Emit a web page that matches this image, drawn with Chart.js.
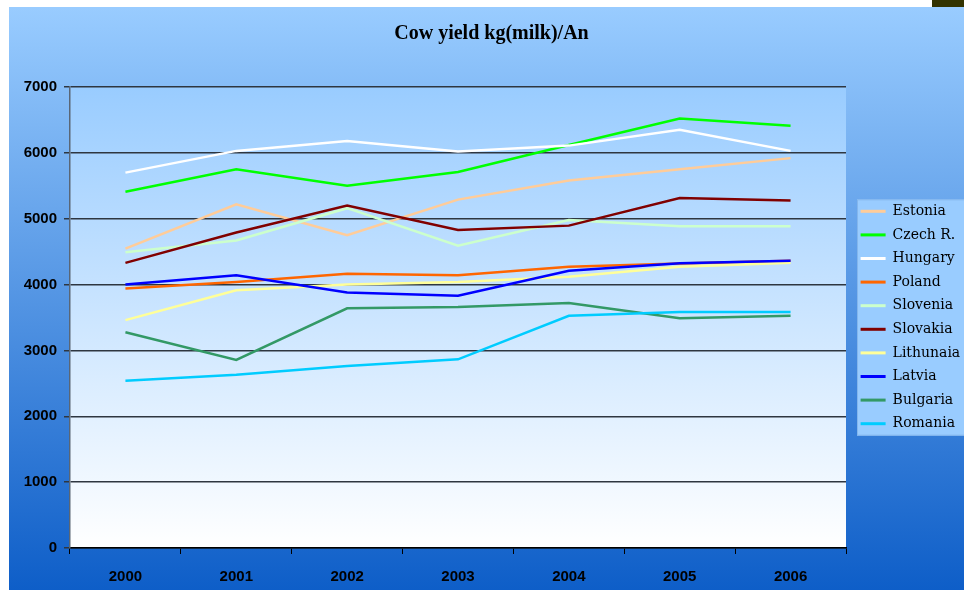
<!DOCTYPE html>
<html>
<head>
<meta charset="utf-8">
<title>Cow yield kg(milk)/An</title>
<script src="https://cdn.jsdelivr.net/npm/chart.js@4/dist/chart.umd.min.js"></script>
<style>
  html, body { margin: 0; padding: 0; background: #fff; }
  #cowChart { display: block; }
</style>
</head>
<body>
<canvas id="cowChart" width="964" height="590"></canvas>
<script>
// --- Data ---
const years = ['2000', '2001', '2002', '2003', '2004', '2005', '2006'];
const countries = ['Estonia', 'Czech R.', 'Hungary', 'Poland', 'Slovenia', 'Slovakia', 'Lithunaia', 'Latvia', 'Bulgaria', 'Romania'];

const estonia   = [4545, 5220, 4750, 5290, 5580, 5750, 5920];
const czech     = [5410, 5750, 5500, 5710, 6120, 6520, 6410];
const hungary   = [5700, 6030, 6180, 6020, 6110, 6350, 6030];
const poland    = [3940, 4040, 4165, 4140, 4270, 4320, 4360];
const slovenia  = [4490, 4670, 5160, 4590, 4980, 4885, 4885];
const slovakia  = [4330, 4790, 5200, 4830, 4895, 5315, 5275];
const lithuania = [3460, 3915, 4000, 4040, 4120, 4270, 4330];
const latvia    = [4000, 4140, 3880, 3830, 4210, 4325, 4360];
const bulgaria  = [3275, 2855, 3640, 3660, 3720, 3490, 3525];
const romania   = [2540, 2630, 2765, 2865, 3525, 3585, 3585];

const seriesValues = [estonia, czech, hungary, poland, slovenia, slovakia, lithuania, latvia, bulgaria, romania];
const seriesColors = ['#FFCC99', '#00FF00', '#FFFFFF', '#FF6600', '#CCFFCC', '#800000', '#FFFF99', '#0000FF', '#339966', '#00CCFF'];

const yTicks = [0, 1000, 2000, 3000, 4000, 5000, 6000, 7000];

// --- Backgrounds: page frame, plot gradient, legend box ---
const backdrop = {
    id: 'backdrop',
    afterInit(chart) {
        // fixed legend width so the plot ends where the reference does
        const lg = chart.legend;
        const fit = lg.fit;
        lg.fit = function () { fit.call(this); this.width = 118; };
    },
    beforeDraw(chart) {
        const { ctx, width, height, chartArea: area } = chart;
        ctx.save();
        ctx.fillStyle = '#ffffff';
        ctx.fillRect(0, 0, width, height);

        const outer = ctx.createLinearGradient(0, 7, 0, height);
        outer.addColorStop(0, '#99CCFF');
        outer.addColorStop(1, '#0E5EC8');
        ctx.fillStyle = outer;
        ctx.fillRect(9, 7, width - 9, height - 7);

        ctx.fillStyle = '#333300';
        ctx.fillRect(width - 32, 0, 32, 7);

        const inner = ctx.createLinearGradient(0, area.top, 0, area.bottom);
        inner.addColorStop(0, '#99CCFF');
        inner.addColorStop(1, '#FFFFFF');
        ctx.fillStyle = inner;
        ctx.fillRect(area.left, area.top, area.right - area.left, area.bottom - area.top);

        // nudge legend and title to the reference spots
        const lg = chart.legend;
        lg.left = area.right + 5;
        lg.right = lg.left + lg.width;
        chart.titleBlock.left = 19;
        chart.titleBlock.right = width;

        const boxes = lg.legendHitBoxes;
        if (boxes && boxes.length) {
            const top = boxes[0].top - 5;
            const last = boxes[boxes.length - 1];
            const bottom = last.top + last.height + 5;
            ctx.fillStyle = '#99CCFF';
            ctx.fillRect(area.right + 11, top, width - area.right - 11, bottom - top);
            ctx.strokeStyle = '#84B6EC';
            ctx.lineWidth = 1;
            ctx.strokeRect(area.right + 11.5, top + 0.5, width - area.right - 11, bottom - top - 1);
        }
        ctx.restore();
    }
};

const datasets = countries.map((name, i) => ({
    label: name,
    data: seriesValues[i],
    borderColor: seriesColors[i],
    backgroundColor: seriesColors[i],
    borderWidth: 2.5,
    pointRadius: 0,
    pointHoverRadius: 0,
    pointBorderWidth: 3,
    pointStyle: 'line',
    tension: 0,
    fill: false,
    order: -i   // later series drawn on top, like the original
}));

new Chart(document.getElementById('cowChart'), {
    type: 'line',
    data: { labels: years, datasets: datasets },
    options: {
        responsive: false,
        animation: false,
        events: [],
        layout: { padding: 0 },
        scales: {
            x: {
                offset: true,
                grid: {
                    offset: true,
                    drawOnChartArea: false,
                    drawTicks: true,
                    tickLength: 6,
                    color: '#000000',
                    lineWidth: 1
                },
                border: { color: '#000000', width: 1.5 },
                ticks: {
                    color: '#000000',
                    padding: 14,
                    font: { family: 'Liberation Sans', size: 15, weight: 'bold' }
                },
                afterFit(scale) { scale.height = 42; }
            },
            y: {
                min: 0,
                max: 7000,
                afterBuildTicks(scale) { scale.ticks = yTicks.map(v => ({ value: v })); },
                grid: {
                    color: '#2E3640',
                    lineWidth: 1.5,
                    drawTicks: true,
                    tickLength: 6
                },
                border: { color: '#5A6675', width: 1.5 },
                ticks: {
                    color: '#000000',
                    padding: 7,
                    font: { family: 'Liberation Sans', size: 15, weight: 'bold' },
                    callback: v => String(v)
                },
                afterFit(scale) { scale.width = 70; }
            }
        },
        plugins: {
            title: {
                display: true,
                text: 'Cow yield kg(milk)/An',
                color: '#000000',
                font: { family: 'Liberation Serif', size: 20, weight: 'bold' },
                padding: { top: 22, bottom: 41 }
            },
            legend: {
                position: 'right',
                fullSize: false,
                labels: {
                    usePointStyle: true,
                    pointStyle: 'line',
                    pointStyleWidth: 25,
                    padding: 9.6,
                    color: '#000000',
                    font: { family: 'DejaVu Serif', size: 14 },
                    sort: (a, b) => a.datasetIndex - b.datasetIndex
                }
            },
            tooltip: { enabled: false }
        }
    },
    plugins: [backdrop]
});
</script>
</body>
</html>
